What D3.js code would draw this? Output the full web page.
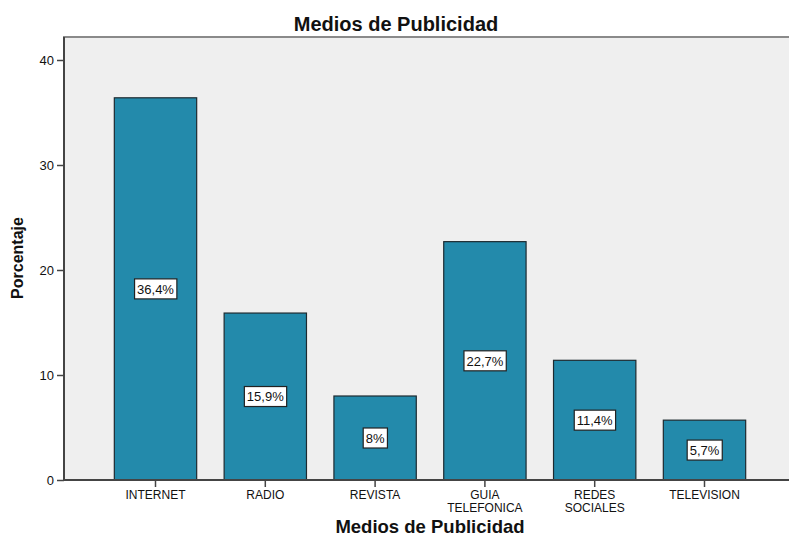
<!DOCTYPE html>
<html>
<head>
<meta charset="utf-8">
<script src="https://cdn.jsdelivr.net/npm/d3@7"></script>
<style>
  html, body { margin: 0; padding: 0; background: #ffffff; }
  svg { display: block; }
</style>
</head>
<body>
<svg id="chart" width="789" height="539"></svg>
<script>
// Advertising media share (percent of respondents)
const categories = ["INTERNET", "RADIO", "REVISTA", "GUIA TELEFONICA", "REDES SOCIALES", "TELEVISION"];
const categoryLines = [["INTERNET"], ["RADIO"], ["REVISTA"], ["GUIA", "TELEFONICA"], ["REDES", "SOCIALES"], ["TELEVISION"]];
const percentages = [36.4, 15.9, 8, 22.7, 11.4, 5.7];
const valueLabels = ["36,4%", "15,9%", "8%", "22,7%", "11,4%", "5,7%"];
const yTicks = [0, 10, 20, 30, 40];

const svg = d3.select("#chart");
const plot = { left: 64, right: 792, top: 37, bottom: 480 };
const sans = "Liberation Sans, Arial, sans-serif";

const x = d3.scaleBand()
  .domain(categories)
  .range([100.6, 759.4])
  .paddingInner(0.25)
  .paddingOuter(0.125);

const y = d3.scaleLinear()
  .domain([0, 40])
  .range([480, 60]);

// plot background and frame
svg.append("rect")
  .attr("x", plot.left).attr("y", plot.top)
  .attr("width", plot.right - plot.left).attr("height", plot.bottom - plot.top)
  .attr("fill", "#efefef")
  .attr("stroke", "#8a8a8a")
  .attr("stroke-width", 2);

// bars
svg.append("g").selectAll("rect")
  .data(percentages)
  .join("rect")
  .attr("x", (d, i) => x(categories[i]))
  .attr("y", d => y(d))
  .attr("width", x.bandwidth())
  .attr("height", d => y(0) - y(d))
  .attr("fill", "#238aab")
  .attr("stroke", "#1d2a30")
  .attr("stroke-width", 1.2);

// value labels in boxes, centred at half bar height
const labelG = svg.append("g").selectAll("g")
  .data(percentages)
  .join("g")
  .attr("transform", (d, i) => `translate(${x(categories[i]) + x.bandwidth() / 2},${y(d / 2)})`);

labelG.append("text")
  .attr("text-anchor", "middle")
  .attr("dy", "0.36em")
  .attr("font-family", sans)
  .attr("font-size", 13)
  .attr("fill", "#111")
  .text((d, i) => valueLabels[i])
  .each(function () {
    const b = this.getBBox();
    d3.select(this.parentNode).insert("rect", "text")
      .attr("x", b.x - 2.5).attr("y", -10)
      .attr("width", b.width + 5).attr("height", 20)
      .attr("fill", "#ffffff")
      .attr("stroke", "#222")
      .attr("stroke-width", 1.2);
  });

// y axis
const yAxis = d3.axisLeft(y).tickValues(yTicks).tickSize(7).tickPadding(3);
const yg = svg.append("g").attr("transform", `translate(${plot.left},0)`).call(yAxis);
yg.select(".domain").attr("stroke", "#444").attr("stroke-width", 2).attr("d", `M0,${plot.top}V${plot.bottom}`);
yg.selectAll(".tick line").attr("stroke", "#444").attr("stroke-width", 1.5);
yg.selectAll(".tick text")
  .attr("font-family", sans)
  .attr("font-size", 13).attr("fill", "#111");

// x axis
const xAxis = d3.axisBottom(x).tickSize(7).tickFormat(() => "");
const xg = svg.append("g").attr("transform", `translate(0,${plot.bottom})`).call(xAxis);
xg.select(".domain").attr("stroke", "#444").attr("stroke-width", 2).attr("d", `M${plot.left},0H${plot.right}`);
xg.selectAll(".tick line").attr("stroke", "#444").attr("stroke-width", 1.5);
xg.selectAll(".tick").each(function (d, i) {
  const tick = d3.select(this);
  categoryLines[i].forEach((line, k) => {
    tick.append("text")
      .attr("text-anchor", "middle")
      .attr("font-family", sans)
      .attr("font-size", 12)
      .attr("fill", "#111")
      .attr("y", 19 + k * 12.5)
      .text(line);
  });
});

// titles
svg.append("text")
  .attr("x", 396).attr("y", 31)
  .attr("text-anchor", "middle")
  .attr("font-family", sans)
  .attr("font-weight", "bold")
  .attr("font-size", 20)
  .attr("fill", "#111")
  .text("Medios de Publicidad");

svg.append("text")
  .attr("x", 430).attr("y", 533)
  .attr("text-anchor", "middle")
  .attr("font-family", sans)
  .attr("font-weight", "bold")
  .attr("font-size", 18.5)
  .attr("fill", "#111")
  .text("Medios de Publicidad");

svg.append("text")
  .attr("transform", "translate(23,258) rotate(-90)")
  .attr("text-anchor", "middle")
  .attr("font-family", sans)
  .attr("font-weight", "bold")
  .attr("font-size", 16)
  .attr("fill", "#111")
  .text("Porcentaje");
</script>
</body>
</html>
